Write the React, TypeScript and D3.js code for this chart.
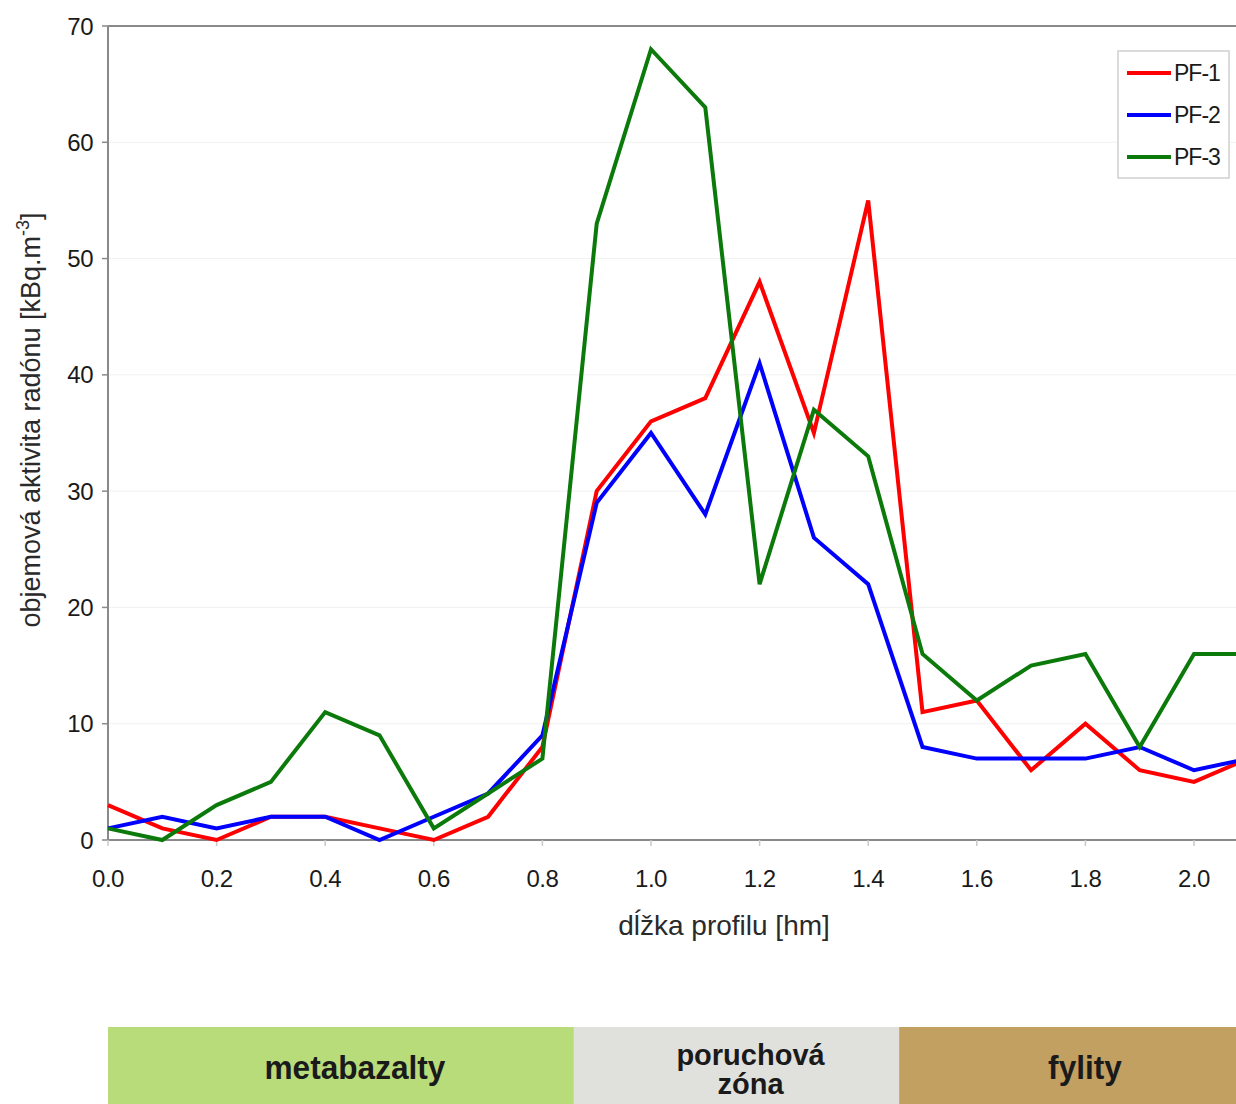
import React from "react";
import * as d3 from "d3";

const distances = [0.0, 0.1, 0.2, 0.3, 0.4, 0.5, 0.6, 0.7, 0.8, 0.9, 1.0, 1.1, 1.2, 1.3, 1.4, 1.5, 1.6, 1.7, 1.8, 1.9, 2.0, 2.1];
const pf1 = [3, 1, 0, 2, 2, 1, 0, 2, 8, 30, 36, 38, 48, 35, 55, 11, 12, 6, 10, 6, 5, 7];
const pf2 = [1, 2, 1, 2, 2, 0, 2, 4, 9, 29, 35, 28, 41, 26, 22, 8, 7, 7, 7, 8, 6, 7];
const pf3 = [1, 0, 3, 5, 11, 9, 1, 4, 7, 53, 68, 63, 22, 37, 33, 16, 12, 15, 16, 8, 16, 16];
const seriesNames = ["PF-1", "PF-2", "PF-3"];
const seriesColors = ["#ff0000", "#0000ff", "#0b7a0b"];
const xTicks = [0.0, 0.2, 0.4, 0.6, 0.8, 1.0, 1.2, 1.4, 1.6, 1.8, 2.0];
const yTicks = [0, 10, 20, 30, 40, 50, 60, 70];
const zoneNames = [["metabazalty"], ["poruchová", "zóna"], ["fylity"]];
const zoneStarts = [0.0, 0.858, 1.457];
const zoneEnds = [0.858, 1.457, 2.09];
const zoneColors = ["#b9dc7b", "#e0e0dc", "#c1a062"];

export default function App() {
  const W = 1236, H = 1104;
  const x = d3.scaleLinear().domain([0, 2.0]).range([108, 1194]);
  const y = d3.scaleLinear().domain([0, 70]).range([840, 26]);
  const series = [pf1, pf2, pf3];
  const line = d3
    .line<number>()
    .x((_, i) => x(distances[i]))
    .y((d) => y(d));
  const font = "'Liberation Sans', Arial, Helvetica, sans-serif";
  const axisColor = "#8a8a8a";

  return (
    <svg
      width={W}
      height={H}
      style={{ position: "absolute", left: 0, top: 0, background: "#fff" }}
      fontFamily={font}
    >
      {yTicks.slice(1).map((t) => (
        <line key={"g" + t} x1={108} x2={W} y1={y(t)} y2={y(t)} stroke="#f1f1f1" strokeWidth={1} />
      ))}
      <line x1={108} x2={W} y1={y(70)} y2={y(70)} stroke={axisColor} strokeWidth={2} />
      <line x1={108} x2={108} y1={y(70)} y2={y(0)} stroke={axisColor} strokeWidth={2} />
      {yTicks.map((t) => (
        <g key={"y" + t}>
          <line x1={102} x2={108} y1={y(t)} y2={y(t)} stroke={axisColor} strokeWidth={1.5} />
          <text x={93} y={y(t) + 8.5} textAnchor="end" fontSize={24} fill="#1a1a1a" letterSpacing={-0.5}>
            {t}
          </text>
        </g>
      ))}
      <line x1={108} x2={W} y1={y(0)} y2={y(0)} stroke={axisColor} strokeWidth={2} />
      {xTicks.map((t) => (
        <g key={"x" + t}>
          <line x1={x(t)} x2={x(t)} y1={y(0)} y2={y(0) + 6} stroke="#c8c8c8" strokeWidth={1.5} />
          <text x={x(t)} y={887} textAnchor="middle" fontSize={24} fill="#1a1a1a" letterSpacing={-0.5}>
            {t.toFixed(1)}
          </text>
        </g>
      ))}
      {series.map((s, i) => (
        <path
          key={seriesNames[i]}
          d={line(s) || ""}
          fill="none"
          stroke={seriesColors[i]}
          strokeWidth={4}
          strokeLinejoin="miter"
        />
      ))}
      <text x={724} y={935} textAnchor="middle" fontSize={28} fill="#2a2a2a">
        dĺžka profilu [hm]
      </text>
      <text transform="translate(40,420) rotate(-90)" textAnchor="middle" fontSize={27} fill="#2a2a2a">
        objemová aktivita radónu [kBq.m
        <tspan fontSize={18} dy={-11}>-3</tspan>
        <tspan dy={11}>]</tspan>
      </text>
      <rect x={1118} y={51} width={111} height={127} fill="#fff" stroke="#cfcfcf" strokeWidth={1.5} />
      {seriesNames.map((n, i) => {
        const ly = 73 + i * 42;
        return (
          <g key={"l" + n}>
            <line x1={1127} x2={1171} y1={ly} y2={ly} stroke={seriesColors[i]} strokeWidth={4} />
            <text x={1174} y={ly + 8} fontSize={23} fill="#1a1a1a" letterSpacing={-1}>
              {n}
            </text>
          </g>
        );
      })}
      {zoneNames.map((lines, i) => {
        const x0 = x(zoneStarts[i]);
        const xe = x(zoneEnds[i]);
        const x1 = Math.max(xe, W);
        const cx = (x0 + xe) / 2 + 14;
        const single = lines.length === 1;
        return (
          <g key={"z" + i}>
            <rect x={x0} y={1027} width={(i === zoneNames.length - 1 ? x1 : xe) - x0} height={H - 1027} fill={zoneColors[i]} />
            {lines.map((t, j) => {
              const by = single ? 1079 : 1065 + j * 29;
              return (
                <g key={t} transform={`translate(${cx},${by}) scale(${single ? 0.93 : 1},1)`}>
                  <text x={0} y={0} textAnchor="middle" fontSize={single ? 34 : 29} fontWeight="bold" fill="#1a1a1a">
                    {t}
                  </text>
                </g>
              );
            })}
          </g>
        );
      })}
    </svg>
  );
}
